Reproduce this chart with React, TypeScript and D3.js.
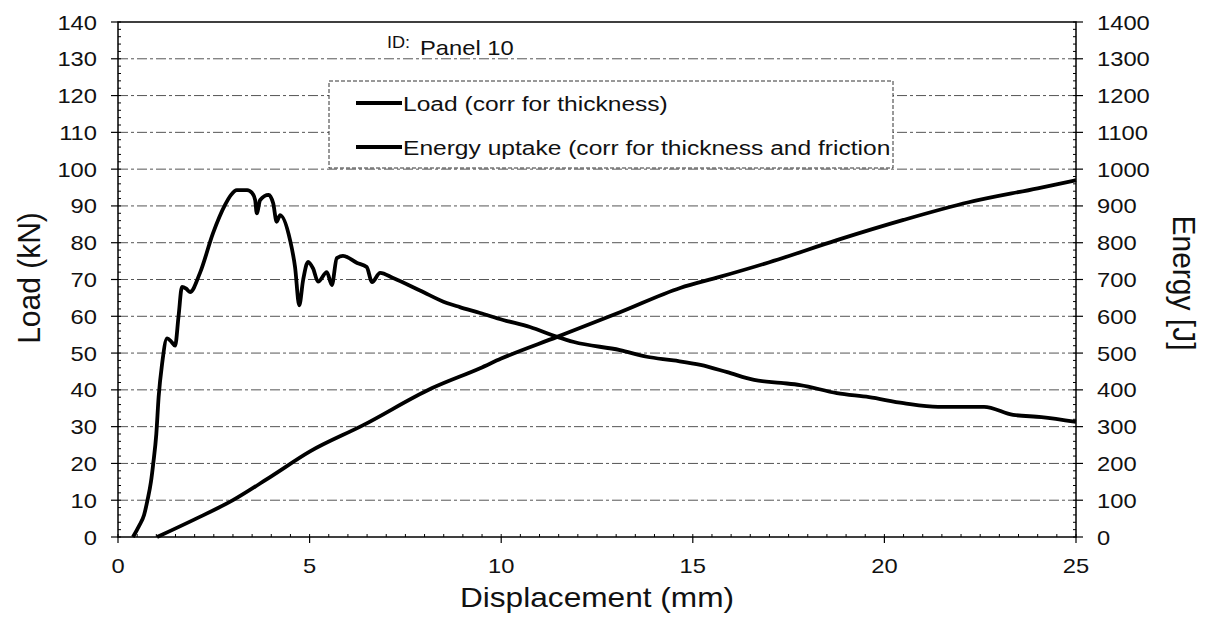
import * as d3 from 'd3';

// Load curve (corr for thickness): displacement in mm, load in kN
const loadX = [
  0.39, 0.55, 0.68, 0.77, 0.86, 0.92, 1.0, 1.06, 1.15, 1.28, 1.4, 1.49, 1.58, 1.67, 1.78, 1.88,
  2.14, 2.48, 2.79, 2.95, 3.1, 3.37, 3.5, 3.58, 3.62, 3.71, 3.93, 4.05, 4.14, 4.23, 4.49, 4.62,
  4.73, 4.83, 4.96, 5.09, 5.22, 5.45, 5.58, 5.71, 5.87, 6.24, 6.49, 6.63, 6.84, 7.18, 7.88, 8.58,
  8.92, 9.45, 10.05, 10.75, 11.46, 11.9, 13.1, 13.8, 14.5, 15.2, 15.9, 16.6, 17.3, 17.8, 18.76,
  19.6, 20.5, 21.4, 22.6, 23.36, 24.1, 25,
];
const loadY = [
  0, 3, 6, 10, 15, 20, 28, 38, 47, 54, 53, 52, 60, 68, 67.5, 66.6,
  71.8, 82.6, 90.2, 93, 94.3, 94.3, 93.5, 91.6, 88, 91.6, 93, 90.7, 85.7, 87.5, 80.7, 73.4,
  63, 69.8, 74.8, 73, 69.4, 72, 68.5, 75.8, 76.4, 74.5, 73.4, 69.3, 71.8, 70.4, 67, 63.6,
  62.5, 60.9, 59, 57.1, 54.4, 53, 50.8, 49, 48, 46.8, 44.8, 42.7, 41.9, 41.3, 39.1,
  38, 36.4, 35.4, 35.4, 33.2, 32.6, 31.3,
];

// Energy uptake (corr for thickness and friction): displacement in mm, energy in J
const energyX = [1.02, 2.0, 3.0, 4.0, 5.0, 6.4, 8.2, 9.45, 10.0, 11.46, 13.1, 14.67, 15.7, 17.0, 18.76, 20.5, 22.2, 24.0, 25];
const energyY = [0, 48, 100, 165, 232, 304, 405, 459, 485, 544, 611, 677, 707, 747, 807, 862, 910, 948, 970];

const xTicks = [0, 5, 10, 15, 20, 25];
const loadTicks = d3.range(0, 141, 10);
const energyTicks = d3.range(0, 1401, 100);
const legendLabels = ['Load (corr for thickness)', 'Energy uptake (corr for thickness and friction'];

const W = 1207;
const H = 621;
const m = { left: 118, right: 1076, top: 22, bottom: 537 };
const font = '"Liberation Sans", Arial, sans-serif';
const SX = 1.13; // the scan is a bit wider than tall

function SText(props: {
  x: number;
  y: number;
  size: number;
  anchor?: string;
  rotate?: number;
  sx?: number;
  children: string;
}) {
  const { x, y, size, anchor = 'start', rotate = 0, sx = SX, children } = props;
  return (
    <text
      transform={`translate(${x},${y}) scale(${sx},1) rotate(${rotate})`}
      fontSize={size}
      fontFamily={font}
      textAnchor={anchor}
      fill='#111'
    >
      {children}
    </text>
  );
}

export default function App() {
  const x = d3.scaleLinear([0, 25], [m.left, m.right]);
  const yL = d3.scaleLinear([0, 140], [m.bottom, m.top]);
  const yE = d3.scaleLinear([0, 1400], [m.bottom, m.top]);

  const loadLine = d3
    .line<number>((d, i) => x(loadX[i]), (d) => yL(d))
    .curve(d3.curveMonotoneX);
  const energyLine = d3
    .line<number>((d, i) => x(energyX[i]), (d) => yE(d))
    .curve(d3.curveMonotoneX);

  const minorY = d3.range(0, 141, 2);
  const minorX = d3.range(0, 25.01, 0.5);

  // legend box
  const lg = { x: 329, y: 81, w: 564, h: 87 };

  return (
    <svg width={W} height={H} style={{ position: 'absolute', left: 0, top: 0, background: '#fff' }}>
      {/* grid */}
      <g stroke='#555' strokeWidth={1} strokeDasharray='10 3 3 3'>
        {loadTicks.slice(1, -1).map((t) => (
          <line key={t} x1={m.left} x2={m.right} y1={yL(t)} y2={yL(t)} />
        ))}
      </g>

      {/* curves */}
      <path d={energyLine(energyY) ?? ''} fill='none' stroke='#000' strokeWidth={3.8} strokeLinejoin='round' />
      <path d={loadLine(loadY) ?? ''} fill='none' stroke='#000' strokeWidth={3.8} strokeLinejoin='round' />

      {/* frame */}
      <rect x={m.left} y={m.top} width={m.right - m.left} height={m.bottom - m.top} fill='none' stroke='#000' strokeWidth={1.5} />

      {/* ticks */}
      <g stroke='#000' strokeWidth={1.2}>
        {loadTicks.map((t) => (
          <line key={'l' + t} x1={m.left - 7} x2={m.left} y1={yL(t)} y2={yL(t)} />
        ))}
        {energyTicks.map((t) => (
          <line key={'r' + t} x1={m.right} x2={m.right + 7} y1={yE(t)} y2={yE(t)} />
        ))}
        {xTicks.map((t) => (
          <line key={'x' + t} x1={x(t)} x2={x(t)} y1={m.bottom} y2={m.bottom + 6} />
        ))}
      </g>
      <g stroke='#000' strokeWidth={1}>
        {minorY.map((t) => (
          <g key={'my' + t}>
            <line x1={m.left} x2={m.left + 3} y1={yL(t)} y2={yL(t)} />
            <line x1={m.right - 3} x2={m.right} y1={yL(t)} y2={yL(t)} />
          </g>
        ))}
        {minorX.map((t) => (
          <line key={'mx' + t} x1={x(t)} x2={x(t)} y1={m.bottom - 3} y2={m.bottom} />
        ))}
      </g>

      {/* tick labels */}
      {loadTicks.map((t) => (
        <SText key={'tl' + t} x={97} y={yL(t) + 7.5} size={21} anchor='end'>
          {String(t)}
        </SText>
      ))}
      {energyTicks.map((t) => (
        <SText key={'tr' + t} x={1097} y={yE(t) + 7.5} size={21}>
          {String(t)}
        </SText>
      ))}
      {xTicks.map((t) => (
        <SText key={'tx' + t} x={x(t)} y={573} size={21} anchor='middle'>
          {String(t)}
        </SText>
      ))}

      {/* axis titles */}
      <SText x={597} y={607} size={28} anchor='middle'>
        Displacement (mm)
      </SText>
      <SText x={40} y={278} size={30} anchor='middle' rotate={-90} sx={1.05}>
        Load (kN)
      </SText>
      <SText x={1173} y={283} size={30} anchor='middle' rotate={90} sx={1.05}>
        Energy [J]
      </SText>

      {/* ID */}
      <SText x={387} y={48} size={16}>
        ID:
      </SText>
      <SText x={420} y={55} size={21}>
        Panel 10
      </SText>

      {/* legend */}
      <rect x={lg.x} y={lg.y} width={lg.w} height={lg.h} fill='#fff' stroke='#333' strokeWidth={1} strokeDasharray='4 2' />
      {legendLabels.map((label, i) => (
        <g key={label}>
          <line x1={356} x2={402} y1={103 + i * 44} y2={103 + i * 44} stroke='#000' strokeWidth={3.8} />
          <SText x={403} y={111 + i * 44} size={21} sx={1.17}>
            {label}
          </SText>
        </g>
      ))}
    </svg>
  );
}
